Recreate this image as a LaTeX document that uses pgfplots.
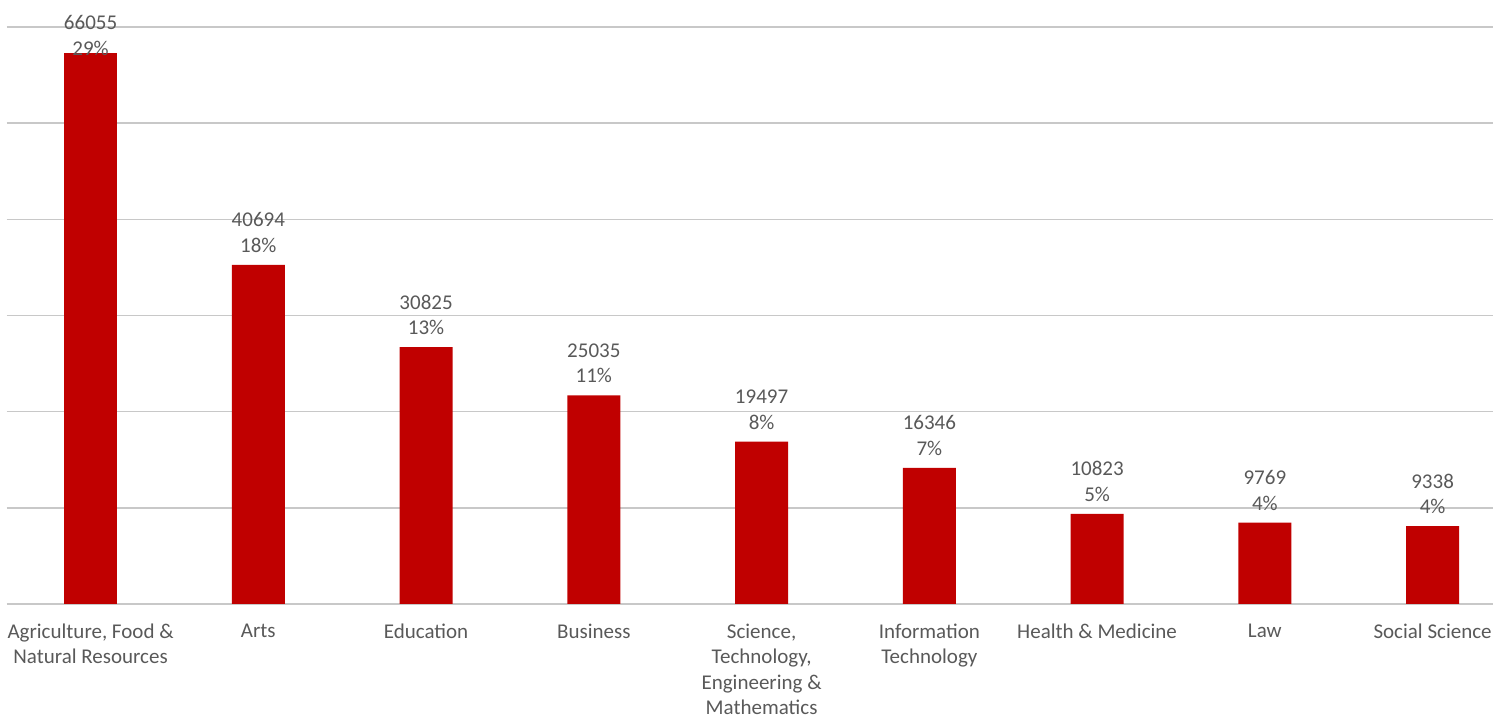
\documentclass[border=0pt]{standalone}
\usepackage{fontspec}
\setmainfont{Carlito}
\usepackage{pgfplots}
\usepackage{pgfplotstable}
\pgfplotsset{compat=1.18}
\definecolor{barred}{RGB}{192,0,0}
\definecolor{txt}{RGB}{89,89,89}
\definecolor{gridc}{RGB}{200,200,200}
\pgfplotstableread{
x y lab
0 66055 {66055\\29\%}
}\firsttable
\pgfplotstableread{
x y lab
1 40694 {40694\\18\%}
2 30825 {30825\\13\%}
3 25035 {25035\\11\%}
4 19497 {19497\\8\%}
5 16346 {16346\\7\%}
6 10823 {10823\\5\%}
7 9769 {9769\\4\%}
8 9338 {9338\\4\%}
}\datatable
\pgfplotsset{labstyle/.style={
  point meta=explicit symbolic,
  nodes near coords,
  every node near coord/.append style={align=center, font=\fontsize{21}{25.5}\selectfont, text=txt, anchor=south, inner sep=0pt}}}
\begin{document}
\begin{tikzpicture}
\begin{axis}[
  scale only axis, width=1486.3pt, height=577pt,
  xmin=-0.5, xmax=8.36, ymin=0, ymax=69234,
  ytick={0,11539,23078,34617,46156,57695,69234},
  yticklabels={}, scaled y ticks=false,
  ymajorgrids, grid style={gridc, line width=1.5pt},
  axis line style={draw=none},
  major tick length=0pt,
  clip=false,
  xtick={0,1,2,3,4,5,6,7,8},
  xticklabels={{Agriculture, Food \&\\Natural Resources},{Arts},{Education},{Business},{Science,\\Technology,\\Engineering \&\\Mathematics},{Information\\Technology},{Health \& Medicine},{Law},{Social Science}},
  xticklabel style={align=center, font=\fontsize{21}{25.2}\selectfont, text=txt, anchor=north, inner sep=0pt, yshift=-20pt},
]
\addplot[ybar, fill=barred, draw=none, bar width=53pt, labstyle,
  every node near coord/.append style={yshift=-2pt}]
  table[x=x, y=y, meta=lab]{\firsttable};
\addplot[ybar, fill=barred, draw=none, bar width=53pt, labstyle,
  every node near coord/.append style={yshift=12pt}]
  table[x=x, y=y, meta=lab]{\datatable};
\end{axis}
\pgfresetboundingbox
\path ([xshift=-6.7pt,yshift=-111pt]current axis.south west) rectangle ([yshift=27pt]current axis.north east);
\end{tikzpicture}
\end{document}
